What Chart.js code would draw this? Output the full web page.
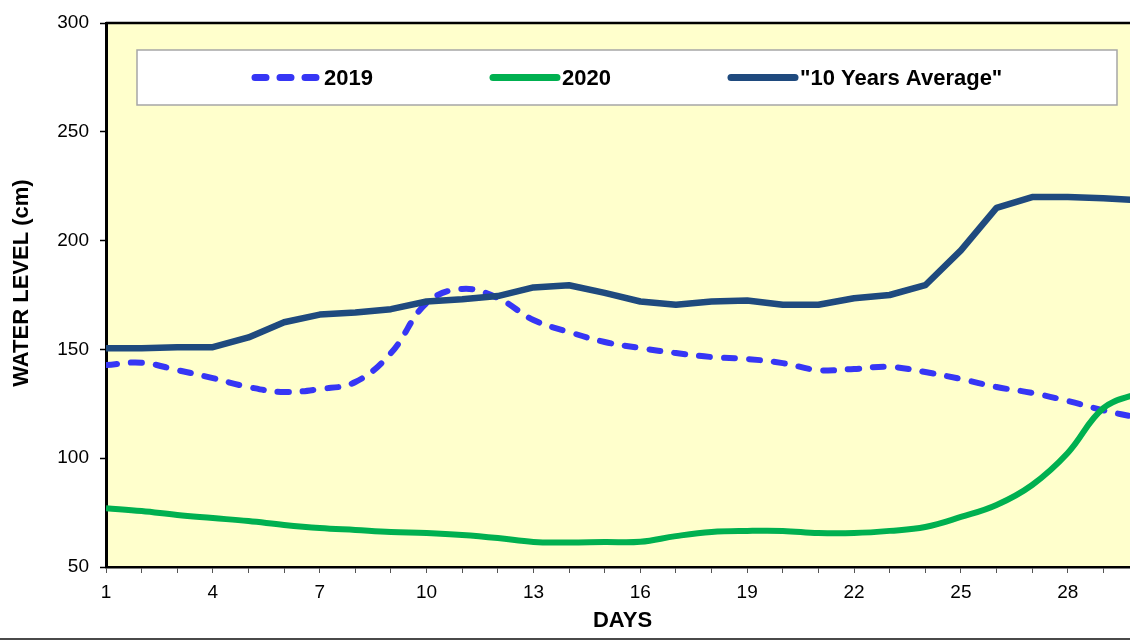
<!DOCTYPE html>
<html>
<head>
<meta charset="utf-8">
<title>Water level</title>
<script src="https://cdn.jsdelivr.net/npm/chart.js@4.4.0/dist/chart.umd.min.js"></script>
<style>
    body { margin: 0; background: #fff; overflow: hidden; }
    .wrap { position: relative; width: 1160px; height: 644px; }
    .frame-line { position: absolute; left: 0; top: 638px; width: 1160px; height: 2px; background: #4a4a4a; }
</style>
</head>
<body>
<div class="wrap">
    <canvas id="levelChart" width="1160" height="644"></canvas>
    <div class="frame-line"></div>
</div>
<script>
// ---- Data ----
const days = [1, 2, 3, 4, 5, 6, 7, 8, 9, 10, 11, 12, 13, 14, 15, 16, 17, 18, 19, 20, 21, 22, 23, 24, 25, 26, 27, 28, 29, 30];
const level2019 = [142.8, 143.9, 140.5, 136.8, 132.7, 130.4, 131.8, 135, 148.3, 171.3, 177.8, 173.6, 163.5, 158, 153.4, 150.6, 148.3, 146.5, 145.6, 143.7, 140.5, 141, 142, 139.6, 136.4, 132.7, 130, 126.3, 122, 118.5];
const level2020 = [77, 75.7, 73.9, 72.5, 71.1, 69.3, 67.9, 67, 66.1, 65.6, 64.7, 63.3, 61.5, 61.3, 61.5, 61.6, 64.2, 66.1, 66.6, 66.6, 65.6, 65.6, 66.6, 68.4, 73, 78.5, 87.7, 102.4, 123, 130];
const levelAverage = [150.5, 150.5, 151, 151, 155.5, 162.5, 166, 167, 168.5, 172, 173, 174.5, 178.5, 179.5, 176, 172, 170.5, 172, 172.5, 170.5, 170.5, 173.5, 175, 179.5, 195.5, 215, 220, 220, 219.5, 218.5];
const seriesNames = ['2019', '2020', '"10 Years Average"'];
const yTicks = [50, 100, 150, 200, 250, 300];
const yTitle = 'WATER LEVEL (cm)';

const FONT = "'Liberation Sans', Arial, sans-serif";

function toPoints(values) {
    return values.map((v, i) => ({ x: days[i], y: v }));
}

// ---- Plot background, top border, y title ----
const plotBackground = {
    id: 'plotBackground',
    beforeDraw(chart) {
        const { ctx, chartArea: a } = chart;
        ctx.save();
        ctx.fillStyle = '#FFFFCC';
        ctx.fillRect(a.left, a.top, a.right - a.left, a.bottom - a.top);
        ctx.restore();
    },
    afterDraw(chart) {
        const { ctx, chartArea: a } = chart;
        ctx.save();
        ctx.strokeStyle = '#000';
        ctx.lineWidth = 2.5;
        ctx.beginPath();
        ctx.moveTo(a.left, a.top);
        ctx.lineTo(a.right, a.top);
        ctx.stroke();

        // y title sits a little above the plot's middle in the original
        ctx.translate(22, (a.top + a.bottom) / 2 - 12);
        ctx.rotate(-Math.PI / 2);
        ctx.font = 'bold 22px ' + FONT;
        ctx.fillStyle = '#000';
        ctx.textAlign = 'center';
        ctx.textBaseline = 'middle';
        ctx.fillText(yTitle, 0, 0);
        ctx.restore();
    }
};

// ---- Legend box drawn inside the plot ----
const boxLegend = {
    id: 'boxLegend',
    afterDraw(chart) {
        const { ctx, chartArea: a } = chart;
        const left = a.left + 31, top = a.top + 27;
        const width = a.right - 22 - left, height = 55;
        ctx.save();
        ctx.fillStyle = '#fff';
        ctx.fillRect(left, top, width, height);
        ctx.strokeStyle = '#a6a6a6';
        ctx.lineWidth = 1.5;
        ctx.strokeRect(left, top, width, height);

        const midY = top + height / 2;
        ctx.font = 'bold 22px ' + FONT;
        ctx.textBaseline = 'middle';
        ctx.textAlign = 'left';
        chart.data.datasets.forEach((ds, i) => {
            const x0 = left + 115 + i * 238;
            ctx.strokeStyle = ds.borderColor;
            ctx.lineWidth = 7;
            ctx.lineCap = 'round';
            ctx.setLineDash(ds.borderDash || []);
            ctx.beginPath();
            ctx.moveTo(x0 + 3, midY);
            ctx.lineTo(x0 + 67, midY);
            ctx.stroke();
            ctx.setLineDash([]);
            ctx.fillStyle = '#000';
            ctx.fillText(seriesNames[i], x0 + 72, midY + 1);
        });
        ctx.restore();
    }
};

// ---- Chart ----
function initLevelChart() {
    const ctx = document.getElementById('levelChart');

    new Chart(ctx, {
        type: 'line',
        data: {
            datasets: [
                {
                    label: seriesNames[0],
                    data: toPoints(level2019),
                    borderColor: '#3636F5',
                    borderWidth: 6,
                    borderDash: [11, 14],
                    borderCapStyle: 'round',
                    tension: 0.4,
                    pointRadius: 0,
                    order: 3
                },
                {
                    label: seriesNames[1],
                    data: toPoints(level2020),
                    borderColor: '#00B050',
                    borderWidth: 6,
                    tension: 0.4,
                    pointRadius: 0,
                    order: 2
                },
                {
                    label: seriesNames[2],
                    data: toPoints(levelAverage),
                    borderColor: '#1F4A7E',
                    borderWidth: 6.5,
                    borderJoinStyle: 'round',
                    tension: 0,
                    pointRadius: 0,
                    order: 1
                }
            ]
        },
        options: {
            responsive: false,
            animation: false,
            layout: { padding: { top: 23, right: 21, left: 0, bottom: 0 } },
            plugins: {
                legend: { display: false },
                tooltip: { enabled: false }
            },
            scales: {
                x: {
                    type: 'linear',
                    min: 1,
                    max: 30,
                    afterFit: scale => { scale.height = 77; },
                    afterBuildTicks: scale => {
                        scale.ticks = days.map(d => ({ value: d }));
                    },
                    ticks: {
                        autoSkip: false,
                        maxRotation: 0,
                        padding: 8,
                        color: '#000',
                        font: { family: FONT, size: 19 },
                        callback: v => ((v - 1) % 3 === 0 ? String(v) : '')
                    },
                    grid: {
                        drawOnChartArea: false,
                        drawTicks: true,
                        tickLength: 6,
                        tickWidth: 1,
                        color: '#555'
                    },
                    border: { display: true, color: '#000', width: 2.5 },
                    title: {
                        display: true,
                        text: 'DAYS',
                        color: '#000',
                        font: { family: FONT, size: 22, weight: 'bold' },
                        padding: { top: 0, bottom: 10 }
                    }
                },
                y: {
                    min: 50,
                    max: 300,
                    afterFit: scale => { scale.width = 106; },
                    afterBuildTicks: scale => {
                        scale.ticks = yTicks.map(v => ({ value: v }));
                    },
                    ticks: {
                        padding: 11,
                        color: '#000',
                        font: { family: FONT, size: 19 }
                    },
                    grid: {
                        drawOnChartArea: false,
                        drawTicks: true,
                        tickLength: 6,
                        tickWidth: 1.5,
                        color: '#000'
                    },
                    border: { display: true, color: '#000', width: 3 },
                    title: { display: false }
                }
            }
        },
        plugins: [plotBackground, boxLegend]
    });
}

document.addEventListener('DOMContentLoaded', initLevelChart);
</script>
</body>
</html>
